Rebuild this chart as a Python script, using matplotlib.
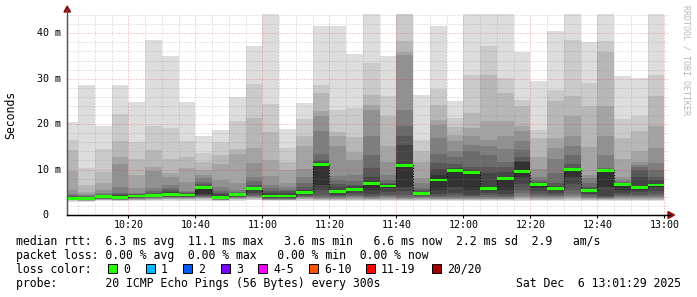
import matplotlib
matplotlib.use('Agg')
import matplotlib.pyplot as plt
import numpy as np
from matplotlib.patches import Polygon, Rectangle
from matplotlib.lines import Line2D
from matplotlib.transforms import blended_transform_factory

W, H = 697, 297

# ---- data ----
times = ['10:05', '10:10', '10:15', '10:20', '10:25', '10:30', '10:35', '10:40', '10:45',
         '10:50', '10:55', '11:00', '11:05', '11:10', '11:15', '11:20', '11:25', '11:30',
         '11:35', '11:40', '11:45', '11:50', '11:55', '12:00', '12:05', '12:10', '12:15',
         '12:20', '12:25', '12:30', '12:35', '12:40', '12:45', '12:50', '12:55', '13:00']

# 20 ping RTTs (ms) per 5-minute step, as read from the smoke (highest first)
pings = [
    [20.5, 16.5, 14.3, 9.7, 5.5, 4.6, 4.3, 4.1, 4.0, 3.85, 3.6, 3.5, 3.45, 3.4, 3.35, 3.3, 3.25, 3.2, 3.1, 2.95],
    [28.6, 10.3, 6.6, 5.1, 4.7, 4.4, 4.2, 4.0, 3.9, 3.75, 3.5, 3.4, 3.35, 3.3, 3.25, 3.2, 3.15, 3.1, 3.0, 2.9],
    [19.6, 14.5, 9.5, 7.0, 5.5, 4.9, 4.6, 4.4, 4.3, 4.1, 3.9, 3.8, 3.7, 3.6, 3.5, 3.45, 3.4, 3.3, 3.2, 3.0],
    [28.6, 22.2, 16.4, 12.8, 11.2, 6.2, 4.9, 4.6, 4.4, 4.1, 3.7, 3.6, 3.5, 3.45, 3.4, 3.35, 3.3, 3.2, 3.1, 3.0],
    [24.9, 16.1, 12.3, 8.8, 6.0, 4.9, 4.7, 4.6, 4.5, 4.3, 4.1, 3.9, 3.8, 3.7, 3.6, 3.5, 3.4, 3.3, 3.2, 3.0],
    [38.5, 19.6, 14.3, 10.6, 9.7, 5.9, 5.3, 4.9, 4.7, 4.5, 4.2, 4.0, 3.9, 3.8, 3.7, 3.6, 3.5, 3.4, 3.3, 3.1],
    [35.0, 19.1, 12.3, 9.2, 8.4, 6.6, 5.9, 5.4, 5.1, 4.8, 4.4, 4.2, 4.0, 3.9, 3.8, 3.7, 3.6, 3.5, 3.3, 3.1],
    [24.8, 16.2, 12.8, 10.3, 7.3, 5.3, 5.0, 4.8, 4.7, 4.5, 4.3, 4.1, 4.0, 3.9, 3.8, 3.7, 3.6, 3.5, 3.3, 3.1],
    [17.3, 13.6, 11.7, 9.9, 8.8, 8.1, 7.3, 6.8, 6.4, 6.1, 4.6, 4.4, 4.2, 4.0, 3.9, 3.8, 3.7, 3.5, 3.3, 3.1],
    [18.7, 16.0, 13.1, 11.2, 7.7, 6.2, 5.3, 4.9, 4.6, 4.2, 3.7, 3.6, 3.5, 3.45, 3.4, 3.35, 3.3, 3.2, 3.1, 3.0],
    [25.9, 20.6, 14.5, 13.4, 7.0, 5.5, 5.1, 4.9, 4.8, 4.6, 4.4, 4.2, 4.0, 3.9, 3.8, 3.7, 3.6, 3.5, 3.3, 3.1],
    [37.3, 28.9, 21.4, 14.7, 11.5, 8.4, 7.5, 6.6, 6.2, 5.9, 5.6, 4.8, 4.4, 4.2, 4.0, 3.9, 3.8, 3.6, 3.4, 3.2],
    [48.0, 24.4, 18.2, 12.1, 8.6, 6.6, 5.9, 5.2, 4.8, 4.5, 4.0, 3.8, 3.7, 3.6, 3.5, 3.4, 3.35, 3.3, 3.2, 3.0],
    [18.9, 14.8, 11.7, 9.9, 7.0, 6.2, 5.6, 5.2, 4.8, 4.5, 4.0, 3.8, 3.7, 3.6, 3.5, 3.4, 3.35, 3.3, 3.2, 3.0],
    [24.7, 21.1, 17.4, 15.1, 10.1, 8.4, 7.1, 6.2, 5.6, 5.1, 4.7, 4.5, 4.2, 4.0, 3.9, 3.8, 3.6, 3.5, 3.3, 3.1],
    [41.5, 28.6, 26.9, 22.8, 21.8, 18.4, 13.4, 12.0, 11.6, 11.3, 6.6, 5.5, 4.4, 4.0, 3.8, 3.6, 3.5, 3.4, 3.3, 3.1],
    [41.6, 23.1, 18.2, 17.4, 15.2, 8.6, 7.6, 6.8, 6.1, 5.5, 4.8, 4.5, 4.2, 4.0, 3.8, 3.6, 3.5, 3.4, 3.2, 3.0],
    [35.4, 23.6, 17.1, 13.9, 12.0, 8.8, 7.4, 6.7, 6.3, 6.0, 5.4, 4.8, 4.4, 4.1, 3.9, 3.7, 3.5, 3.4, 3.2, 3.0],
    [48.0, 33.4, 26.4, 24.2, 23.1, 17.3, 13.2, 10.3, 8.4, 7.2, 5.5, 4.6, 4.2, 4.0, 3.8, 3.6, 3.5, 3.4, 3.2, 3.0],
    [35.0, 26.1, 21.8, 15.2, 11.7, 8.8, 7.7, 7.0, 6.8, 6.6, 6.0, 5.0, 4.5, 4.1, 3.9, 3.7, 3.5, 3.4, 3.2, 3.0],
    [60.0, 47.0, 38.2, 35.8, 35.3, 23.1, 19.5, 17.4, 15.4, 11.0, 6.2, 5.2, 4.4, 4.0, 3.8, 3.6, 3.5, 3.4, 3.2, 3.0],
    [26.4, 16.5, 14.0, 11.7, 8.1, 7.0, 6.0, 5.5, 5.1, 4.9, 4.5, 4.3, 4.1, 3.9, 3.8, 3.7, 3.6, 3.4, 3.2, 3.0],
    [41.5, 27.8, 24.2, 20.9, 19.8, 16.9, 13.4, 11.4, 10.1, 8.8, 5.5, 4.6, 4.1, 3.9, 3.7, 3.6, 3.5, 3.4, 3.2, 3.0],
    [25.0, 21.3, 19.3, 17.6, 16.2, 14.0, 12.8, 11.2, 10.4, 10.0, 6.2, 4.9, 4.3, 4.0, 3.8, 3.6, 3.5, 3.4, 3.2, 3.0],
    [48.0, 30.8, 22.4, 19.1, 17.3, 15.4, 14.0, 10.6, 9.8, 9.5, 5.5, 4.4, 4.1, 3.9, 3.7, 3.6, 3.5, 3.4, 3.2, 3.0],
    [48.0, 37.2, 30.8, 20.6, 16.5, 15.1, 13.2, 10.6, 9.2, 6.2, 5.4, 4.8, 4.3, 4.0, 3.8, 3.6, 3.5, 3.4, 3.2, 3.0],
    [48.0, 30.1, 26.8, 20.6, 17.3, 14.5, 11.7, 10.5, 9.5, 8.3, 5.5, 4.6, 4.2, 4.0, 3.8, 3.6, 3.5, 3.4, 3.2, 3.0],
    [35.8, 25.3, 23.9, 19.5, 18.4, 16.2, 14.3, 12.8, 11.9, 11.7, 8.3, 6.8, 5.6, 4.8, 4.2, 3.9, 3.7, 3.5, 3.3, 3.0],
    [29.6, 18.7, 16.9, 12.8, 10.1, 8.4, 7.6, 7.2, 7.0, 6.9, 6.0, 5.2, 4.6, 4.2, 4.0, 3.8, 3.6, 3.4, 3.2, 3.0],
    [40.5, 27.5, 25.0, 16.9, 14.7, 12.3, 9.2, 7.0, 6.4, 6.0, 5.5, 4.8, 4.4, 4.1, 3.9, 3.7, 3.6, 3.4, 3.2, 3.0],
    [48.0, 38.5, 26.2, 21.7, 17.3, 15.1, 13.2, 11.2, 10.4, 10.2, 8.4, 6.9, 5.4, 4.6, 4.1, 3.9, 3.7, 3.5, 3.3, 3.0],
    [38.0, 29.1, 24.0, 14.9, 8.8, 8.1, 7.0, 6.2, 5.9, 5.6, 5.1, 4.7, 4.3, 4.0, 3.8, 3.7, 3.6, 3.4, 3.2, 3.0],
    [48.0, 38.2, 35.8, 23.9, 17.4, 13.2, 10.3, 10.1, 10.0, 9.9, 6.2, 4.1, 3.9, 3.8, 3.7, 3.6, 3.5, 3.4, 3.2, 3.0],
    [30.7, 21.1, 16.9, 12.3, 8.4, 7.7, 7.2, 7.0, 6.9, 6.8, 5.5, 4.8, 4.4, 4.1, 3.9, 3.7, 3.6, 3.4, 3.2, 3.0],
    [30.1, 21.8, 18.4, 14.0, 11.6, 11.0, 10.5, 10.0, 8.4, 6.3, 5.6, 5.0, 4.5, 4.1, 3.9, 3.7, 3.6, 3.4, 3.2, 3.0],
    [48.0, 30.8, 26.1, 19.6, 14.8, 11.5, 9.9, 8.4, 7.6, 6.9, 6.1, 5.3, 4.6, 4.2, 3.9, 3.7, 3.6, 3.4, 3.2, 3.0],
]

median = [3.7, 3.6, 4.0, 3.9, 4.2, 4.3, 4.6, 4.4, 6.0, 3.9, 4.5, 5.8, 4.2, 4.2, 4.9, 11.1, 5.1, 5.7,
          7.0, 6.4, 10.9, 4.7, 7.7, 9.8, 9.4, 5.8, 8.0, 9.6, 6.7, 5.8, 10.1, 5.4, 9.8, 6.7, 6.0, 6.6]

ytick_vals = [0, 10, 20, 30, 40]
ytick_labels = ['0', '10 m', '20 m', '30 m', '40 m']
xtick_labels = ['10:20', '10:40', '11:00', '11:20', '11:40', '12:00', '12:20', '12:40', '13:00']

stats_line = "median rtt:  6.3 ms avg  11.1 ms max   3.6 ms min   6.6 ms now  2.2 ms sd  2.9   am/s"
loss_line = "packet loss: 0.00 % avg  0.00 % max   0.00 % min  0.00 % now"
probe_line = "probe:       20 ICMP Echo Pings (56 Bytes) every 300s"
date_text = "Sat Dec  6 13:01:29 2025"
loss_labels = ['0', '1', '2', '3', '4-5', '6-10', '11-19', '20/20']
loss_colors = ['#26ff00', '#00b8ff', '#0059ff', '#7e00ff', '#ff00ff', '#ff5500', '#ff0000', '#a10000']

# ---- helpers ----
def tmin(s):
    return (int(s[:2]) - 10) * 60 + int(s[3:])

def fx(px):
    return px / W

def fy(py):
    return 1 - py / H

MONO = 'DejaVu Sans Mono'

fig = plt.figure(figsize=(W / 100, H / 100), dpi=100)
fig.patch.set_facecolor('white')

ax_left, ax_right, ax_bottom, ax_top = 67, 669, 215, 14
ax = fig.add_axes([fx(ax_left), fy(ax_bottom), (ax_right - ax_left) / W, (ax_bottom - ax_top) / H])
px_per_ms = 4.5425
px_per_min = 67 / 20.0
x0 = 20 - (128.3 - ax_left) / px_per_min
ax.set_xlim(x0, x0 + (ax_right - ax_left) / px_per_min)
ax.set_ylim(0, (ax_bottom - ax_top) / px_per_ms)

t_end = np.array([tmin(s) for s in times], dtype=float)
centers = t_end - 2.5
p = np.sort(np.array(pings, dtype=float), axis=1)
med = np.array(median, dtype=float)

half = 10
for i in range(1, half + 1):
    shade = int(190 / half * (half - i)) + 50
    col = '#%02x%02x%02x' % (shade, shade, shade)
    lo = p[:, i - 1]
    hi = p[:, 20 - i]
    ax.bar(centers, hi - lo, bottom=lo, width=5, color=col, linewidth=0,
           antialiased=False, zorder=1)

# median dotted step line + green median band
edges = np.append(t_end - 5, t_end[-1])
ax.step(edges, np.append(med, med[-1]), where='post', color='#000000', lw=0.8,
        ls=(0, (1, 1.5)), zorder=3)
ax.bar(centers, 0.62, bottom=med - 0.31, width=5, color=loss_colors[0], linewidth=0,
       antialiased=False, zorder=4)

# grid
major_x = [tmin(s) for s in xtick_labels]
ax.set_xticks(major_x)
ax.set_xticks(np.arange(5, 181, 5), minor=True)
ax.set_yticks(ytick_vals)
ax.set_yticks(np.arange(2, 45, 2), minor=True)
ax.set_axisbelow(False)
ax.grid(which='minor', color='#8c8c8c', alpha=0.45, lw=0.72, ls=(0, (1, 2)), zorder=2.5)
ax.grid(which='major', color='#e03030', alpha=0.45, lw=0.72, ls=(0, (1, 2)), zorder=2.5)

ax.set_xticklabels(xtick_labels, fontfamily=MONO, fontsize=7.2)
ax.tick_params(axis='x', which='major', direction='out', length=2.5, width=0.8, pad=1.2,
               color='#000000')
ax.tick_params(axis='x', which='minor', length=0)
ax.tick_params(axis='y', which='both', length=0, labelleft=False)

for s in ['top', 'right']:
    ax.spines[s].set_visible(False)
ax.spines['left'].set_color('#555555')
ax.spines['left'].set_linewidth(0.9)
ax.spines['bottom'].set_color('#000000')
ax.spines['bottom'].set_linewidth(0.9)
ax.set_facecolor('white')

# y tick labels (number part right aligned)
ytrans = blended_transform_factory(fig.transFigure, ax.transData)
for v, lab in zip(ytick_vals, ytick_labels):
    if lab.endswith(' m'):
        fig.text(fx(60.5), v, lab, transform=ytrans, ha='right', va='center',
                 fontfamily=MONO, fontsize=7.2)
    else:
        fig.text(fx(48), v, lab, transform=ytrans, ha='right', va='center',
                 fontfamily=MONO, fontsize=7.2)

# axis extensions + arrows
fig.add_artist(Line2D([fx(ax_left), fx(ax_left)], [fy(ax_bottom), fy(9)], color='#555555',
                      lw=0.9, transform=fig.transFigure))
fig.add_artist(Line2D([fx(ax_left), fx(670)], [fy(ax_bottom), fy(ax_bottom)], color='#000000',
                      lw=0.9, transform=fig.transFigure))
arrow_col = '#8b1010'
fig.add_artist(Polygon([[fx(64), fy(12)], [fx(70.5), fy(12)], [fx(67.2), fy(6)]],
                       closed=True, color=arrow_col, transform=fig.transFigure))
fig.add_artist(Polygon([[fx(668), fy(211.5)], [fx(668), fy(218.5)], [fx(674.5), fy(215)]],
                       closed=True, color=arrow_col, transform=fig.transFigure))

# labels
fig.text(fx(11), fy(115), 'Seconds', rotation=90, ha='center', va='center',
         fontfamily=MONO, fontsize=8.3)
fig.text(fx(686), fy(5), 'RRDTOOL / TOBI OETIKER', rotation=270, ha='center', va='top',
         fontfamily=MONO, fontsize=6, color='#b8b8b8')

# legend lines
fs = 8.3
fig.text(fx(16), fy(245), stats_line, ha='left', va='baseline', fontfamily=MONO, fontsize=fs)
fig.text(fx(16), fy(259), loss_line, ha='left', va='baseline', fontfamily=MONO, fontsize=fs)
fig.text(fx(16), fy(273), 'loss color:', ha='left', va='baseline', fontfamily=MONO, fontsize=fs)
fig.text(fx(16), fy(287), probe_line, ha='left', va='baseline', fontfamily=MONO, fontsize=fs)
fig.text(fx(681), fy(287), date_text, ha='right', va='baseline', fontfamily=MONO, fontsize=fs)

box_x = [108, 146, 183, 221, 258, 309, 366, 432]
for bx, lab, c in zip(box_x, loss_labels, loss_colors):
    fig.add_artist(Rectangle((fx(bx), fy(273)), 9 / W, 9 / H, facecolor=c,
                             edgecolor='#000000', lw=0.7, transform=fig.transFigure))
    fig.text(fx(bx + 15), fy(273), lab, ha='left', va='baseline', fontfamily=MONO, fontsize=fs)

fig.savefig('out.png', dpi=100, facecolor='white')
